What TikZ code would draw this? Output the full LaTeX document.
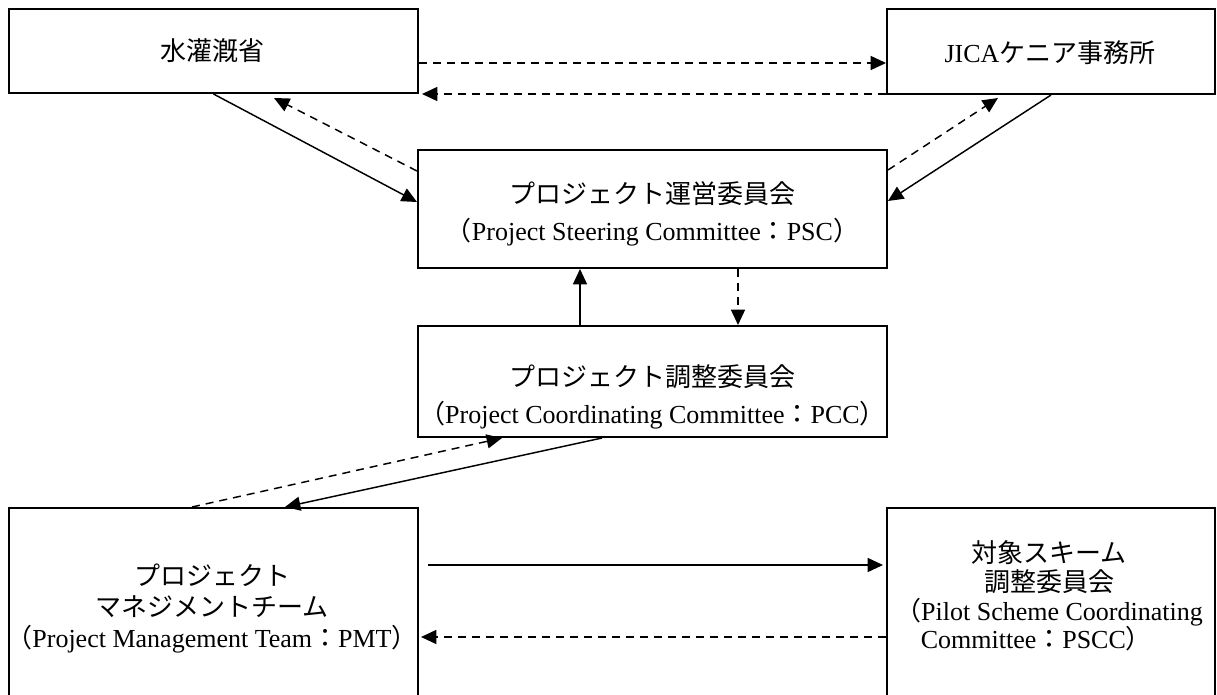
\documentclass[tikz,border=0pt]{standalone}
\usepackage{fontspec}
\setmainfont{Liberation Serif}
\newfontfamily\jp{Noto Sans CJK JP}
\usetikzlibrary{arrows.meta,calc}
\newcommand{\J}[1]{{\jp #1}}
\begin{document}
\begin{tikzpicture}[x=0.75pt,y=-0.75pt,
  box/.style={draw, line width=1.5pt, inner sep=0pt, anchor=center},
  txt/.style={align=center, inner sep=0pt, anchor=center, font=\fontsize{19.5}{27.75}\selectfont},
  conn/.style={line width=1.1pt, -{Triangle[length=11.5pt,width=10.5pt]}},
  dconn/.style={conn, dash pattern=on 6pt off 4.5pt}]
\clip (0,0) rectangle (1217,695);
% boxes
\node[box, minimum width=306.75pt, minimum height=63pt] (mow) at (213.5,51) {};
\node[box, minimum width=246pt, minimum height=63.75pt] (jica) at (1051,51.5) {};
\node[box, minimum width=351.75pt, minimum height=88.5pt] (psc) at (652.5,209) {};
\node[box, minimum width=351.75pt, minimum height=83.25pt] (pcc) at (652.5,381.5) {};
\node[box, minimum width=306.75pt, minimum height=156pt] (pmt) at (213.5,612) {};
\node[box, minimum width=246pt, minimum height=156pt] (pscc) at (1051,612) {};
% texts
\node[txt] (mowt) at (212,51) {\J{水灌漑省}};
\node[txt] (jicat) at (1050,53) {JICA\J{ケニア事務所}};
\node[txt] (psct) at (652.5,213.5) {\J{プロジェクト運営委員会}\\\J{（}Project Steering Committee\J{：}PSC\J{）}};
\node[txt] (pcct) at (652.5,396.5) {\J{プロジェクト調整委員会}\\\J{（}Project Coordinating Committee\J{：}PCC\J{）}};
\node[txt, font=\fontsize{19.5}{23.25}\selectfont] (pmtt) at (212,608) {\J{プロジェクト}\\\J{マネジメントチーム}\\\J{（}Project Management Team\J{：}PMT\J{）}};
\node[txt, font=\fontsize{19.5}{21.5}\selectfont] (pscct) at (1049,596) {\J{対象スキーム}\\\J{調整委員会}\\\J{（}Pilot Scheme Coordinating\\Committee\J{：}PSCC\J{）}\hspace*{19pt}};
% connectors
\draw[conn] (mow.south) -- ($(psc.north west)+(0,53)$);
\draw[dconn] ($(psc.north west)+(0,22)$) -- ($(mow.south west)+(266,4)$);
\draw[conn] ($(jica.south west)+(165,0)$) -- ($(psc.north east)+(0,52)$);
\draw[dconn] ($(psc.north east)+(0,21)$) -- ($(jica.south west)+(112,3)$);
\draw[dconn] ($(mow.north east)+(0,55)$) -- ($(jica.north west)+(0,55)$);
\draw[dconn] ($(jica.south west)+(0,-1)$) -- ($(mow.south east)+(3,0)$);
\draw[conn] ($(pcc.north west)+(163,0)$) -- ($(psc.south west)+(163,0)$);
\draw[dconn] ($(psc.south west)+(321,0)$) -- ($(pcc.north west)+(321,0)$);
\draw[dconn] ($(pmt.north west)+(184,0)$) -- ($(pcc.south west)+(85,0)$);
\draw[conn] ($(pcc.south west)+(185,0)$) -- ($(pmt.north west)+(277,0)$);
\draw[conn] ($(pmt.north east)+(9,58)$) -- ($(pscc.north west)+(-3,58)$);
\draw[dconn] ($(pscc.north west)+(0,130)$) -- ($(pmt.north east)+(2,130)$);
\end{tikzpicture}
\end{document}
